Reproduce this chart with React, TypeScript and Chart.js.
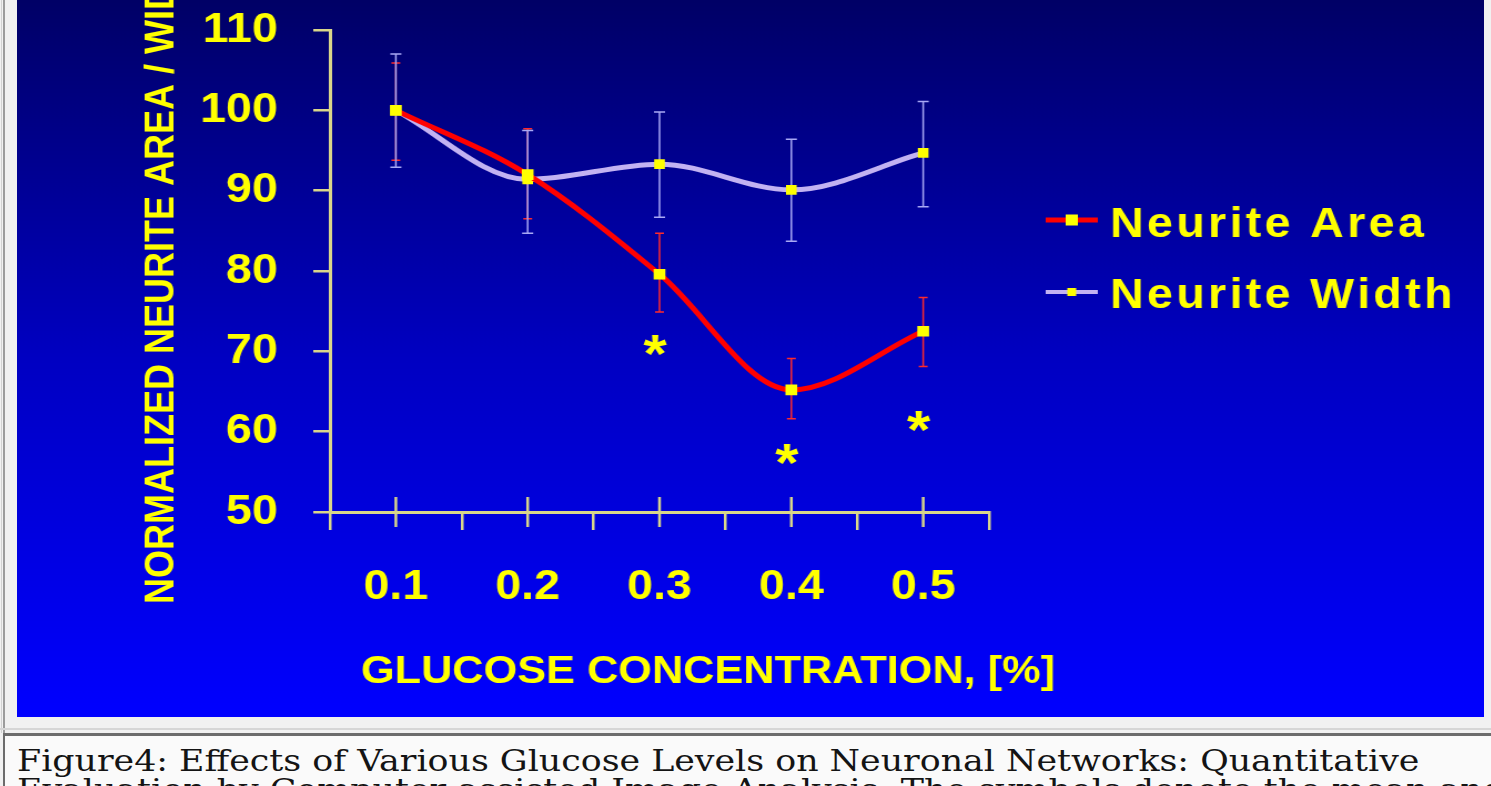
import React, { useEffect, useLayoutEffect, useRef } from 'react';
import { Chart, registerables } from 'chart.js';

Chart.register(...registerables);

// ---------------- data ----------------
const categories = ['0.1', '0.2', '0.3', '0.4', '0.5'];
const seriesLabels = ['Neurite Area', 'Neurite Width'];
const areaMean = [100, 92, 79.6, 65.2, 72.5];
const areaUpper = [105.9, 97.7, 84.7, 69.1, 76.7];
const areaLower = [93.8, 86.5, 74.9, 61.6, 68.1];
const widthMean = [100, 91.4, 93.3, 90.1, 94.7];
const widthUpper = [107.0, 97.5, 99.8, 96.4, 101.1];
const widthLower = [92.9, 84.7, 86.7, 83.7, 88.0];
const yTickValues = [50, 60, 70, 80, 90, 100, 110];
const asteriskCategories = ['0.3', '0.4', '0.5'];
const asteriskValues = [71.3, 57.7, 61.9];
const xTitle = 'GLUCOSE CONCENTRATION, [%]';
const yTitle = 'NORMALIZED NEURITE AREA / WIDTH';
const captionLines = [
  'Figure4: Effects of Various Glucose Levels on Neuronal Networks: Quantitative',
  'Evaluation by Computer-assisted Image Analysis. The symbols denote the mean and',
];

// ---------------- style / layout ----------------
const W = 1322; // logical canvas width
const H = 717;
const CSS_W = 1467; // displayed width (picture is stretched horizontally)
const AREA = { left: 282, top: 30, right: 876, bottom: 512 };
const YELLOW = '#ffff00';
const AXIS = '#d9d68a';
const RED = '#ff0000';
const LAVENDER = '#c2b2f2';
const FONT = '"Liberation Sans", Arial, sans-serif';

const errorStyles = [
  { color: '#ff2a2a', cap: 4 },
  { color: '#a9a9f5', cap: 5 },
];
const errorData = [
  { upper: areaUpper, lower: areaLower },
  { upper: widthUpper, lower: widthLower },
];

const legendLayout = {
  x1: 927,
  x2: 974,
  textX: 985,
  rows: [
    { lineY: 220, base: 236.5, lw: 5, marker: 11 },
    { lineY: 292, base: 308, lw: 4, marker: 8 },
  ],
};

const zeroPadding = (s: any) => {
  s.paddingTop = 0;
  s.paddingBottom = 0;
  s.paddingLeft = 0;
  s.paddingRight = 0;
};

const backgroundPlugin = {
  id: 'panelBackground',
  beforeDraw(chart: any) {
    const { ctx, width, height } = chart;
    const g = ctx.createLinearGradient(0, 0, 0, height);
    g.addColorStop(0, '#000066');
    g.addColorStop(0.5, '#0000c2');
    g.addColorStop(1, '#0000ff');
    ctx.save();
    ctx.fillStyle = g;
    ctx.fillRect(0, 0, width, height);
    ctx.restore();
  },
};

const errorBarPlugin = {
  id: 'errorBars',
  beforeDatasetsDraw(chart: any) {
    const { ctx, chartArea } = chart;
    const x = chart.scales.x;
    const y = chart.scales.y;
    ctx.save();
    // category cross ticks on the x axis
    ctx.strokeStyle = AXIS;
    ctx.lineWidth = 2.5;
    categories.forEach((c, i) => {
      const px = x.getPixelForValue(i);
      ctx.beginPath();
      ctx.moveTo(px, chartArea.bottom - 15);
      ctx.lineTo(px, chartArea.bottom + 15);
      ctx.stroke();
    });
    // error bars
    ctx.lineWidth = 1.5;
    errorData.forEach((s, si) => {
      const st = errorStyles[si];
      ctx.strokeStyle = st.color;
      categories.forEach((c, i) => {
        const px = x.getPixelForValue(i);
        const top = y.getPixelForValue(s.upper[i]);
        const bot = y.getPixelForValue(s.lower[i]);
        ctx.beginPath();
        ctx.moveTo(px, top);
        ctx.lineTo(px, bot);
        ctx.moveTo(px - st.cap, top);
        ctx.lineTo(px + st.cap, top);
        ctx.moveTo(px - st.cap, bot);
        ctx.lineTo(px + st.cap, bot);
        ctx.stroke();
      });
    });
    ctx.restore();
  },
};

const annotationPlugin = {
  id: 'annotations',
  afterDraw(chart: any) {
    const { ctx } = chart;
    const x = chart.scales.x;
    const y = chart.scales.y;
    ctx.save();
    ctx.fillStyle = YELLOW;

    // significance asterisks
    const astSize = 54;
    ctx.font = `bold ${astSize}px ${FONT}`;
    ctx.textAlign = 'center';
    ctx.textBaseline = 'alphabetic';
    asteriskCategories.forEach((c, i) => {
      const px = x.getPixelForValue(categories.indexOf(c)) - 4;
      const py = y.getPixelForValue(asteriskValues[i]) + astSize * 0.58;
      ctx.fillText('*', px, py);
    });

    // y axis title (rotated, runs off the top)
    ctx.save();
    ctx.translate(140.5, 604);
    ctx.rotate(-Math.PI / 2);
    ctx.font = `bold 36px ${FONT}`;
    ctx.textAlign = 'left';
    ctx.textBaseline = 'alphabetic';
    ctx.fillText(yTitle, 0, 0);
    ctx.restore();

    // x axis title
    ctx.font = `bold 39px ${FONT}`;
    ctx.textAlign = 'left';
    ctx.textBaseline = 'alphabetic';
    ctx.fillText(xTitle, 310, 683);

    // legend
    chart.data.datasets.forEach((ds: any, i: number) => {
      const row = legendLayout.rows[i];
      ctx.strokeStyle = ds.borderColor;
      ctx.lineWidth = row.lw;
      ctx.beginPath();
      ctx.moveTo(legendLayout.x1, row.lineY);
      ctx.lineTo(legendLayout.x2, row.lineY);
      ctx.stroke();
      const mx = (legendLayout.x1 + legendLayout.x2) / 2;
      ctx.fillStyle = YELLOW;
      ctx.fillRect(mx - row.marker / 2, row.lineY - row.marker / 2, row.marker, row.marker);
      ctx.font = `bold 42px ${FONT}`;
      (ctx as any).letterSpacing = '3px';
      ctx.textAlign = 'left';
      ctx.fillText(ds.label, legendLayout.textX, row.base);
      (ctx as any).letterSpacing = '0px';
    });
    ctx.restore();
  },
};

export default function App() {
  const ref = useRef<HTMLCanvasElement>(null);

  useLayoutEffect(() => {
    document.body.style.margin = '0';
  }, []);

  useEffect(() => {
    const canvas = ref.current;
    if (!canvas) return;
    const tickFont = { family: FONT, weight: 'bold' as const, size: 42 };
    const chart = new Chart(canvas, {
      type: 'line',
      data: {
        labels: categories,
        datasets: [
          {
            label: seriesLabels[0],
            data: areaMean,
            borderColor: RED,
            borderWidth: 5,
            cubicInterpolationMode: 'monotone',
            pointStyle: 'rect',
            pointRadius: 7.5,
            pointBackgroundColor: YELLOW,
            pointBorderWidth: 0,
            fill: false,
          },
          {
            label: seriesLabels[1],
            data: widthMean,
            borderColor: LAVENDER,
            borderWidth: 5,
            cubicInterpolationMode: 'monotone',
            pointStyle: 'rect',
            pointRadius: 6.8,
            pointBackgroundColor: YELLOW,
            pointBorderWidth: 0,
            fill: false,
          },
        ],
      },
      options: {
        animation: false,
        responsive: false,
        maintainAspectRatio: false,
        devicePixelRatio: 1,
        events: [],
        layout: { padding: { left: 0, top: AREA.top, right: W - AREA.right, bottom: 0 } },
        plugins: {
          legend: { display: false },
          tooltip: { enabled: false },
          title: { display: false },
        },
        scales: {
          x: {
            type: 'category',
            offset: true,
            grid: {
              offset: true,
              drawOnChartArea: false,
              drawTicks: true,
              tickLength: 18,
              color: AXIS,
              lineWidth: 2.5,
            },
            border: { display: true, color: AXIS, width: 3 },
            ticks: {
              color: YELLOW,
              font: tickFont,
              padding: 32,
              maxRotation: 0,
              autoSkip: false,
            },
            afterFit: (s: any) => {
              s.height = H - AREA.bottom;
              zeroPadding(s);
            },
          },
          y: {
            type: 'linear',
            min: 50,
            max: 110,
            afterBuildTicks: (s: any) => {
              s.ticks = yTickValues.map((v) => ({ value: v }));
            },
            grid: {
              drawOnChartArea: false,
              drawTicks: true,
              tickLength: 15,
              color: AXIS,
              lineWidth: 2.5,
            },
            border: { display: true, color: AXIS, width: 3 },
            ticks: {
              color: YELLOW,
              font: tickFont,
              padding: 32,
            },
            afterFit: (s: any) => {
              s.width = AREA.left;
              zeroPadding(s);
            },
          },
        },
      } as any,
      plugins: [backgroundPlugin, errorBarPlugin, annotationPlugin],
    });
    return () => chart.destroy();
  }, []);

  return (
    <div
      style={{
        position: 'relative',
        width: 1491,
        height: 786,
        overflow: 'hidden',
        background: '#f1f1f1',
      }}
    >
      <div style={{ position: 'absolute', left: 1, top: 0, width: 1, height: 733, background: '#d2d2d2' }} />
      <div style={{ position: 'absolute', left: 3, top: 0, width: 2, height: 733, background: '#9c9c9c' }} />
      <div style={{ position: 'absolute', left: 17, top: 0, width: CSS_W, height: H }}>
        <canvas
          ref={ref}
          width={W}
          height={H}
          style={{ display: 'block', width: `${CSS_W}px`, height: `${H}px` }}
        />
      </div>
      <div style={{ position: 'absolute', left: 0, top: 728, width: 1491, height: 2, background: '#d6d6d6' }} />
      <div
        style={{
          position: 'absolute',
          left: 3,
          top: 733,
          width: 1488,
          height: 60,
          borderTop: '3px solid #6c6c6c',
          borderLeft: '2px solid #6c6c6c',
          background: '#fafafa',
          boxSizing: 'border-box',
        }}
      />
      <div
        style={{
          position: 'absolute',
          left: 17,
          top: 747,
          fontFamily: '"DejaVu Serif", serif',
          fontSize: 30,
          lineHeight: '28.5px',
          color: '#141414',
          whiteSpace: 'nowrap',
          transform: 'scaleX(1.16)',
          transformOrigin: 'left top',
        }}
      >
        {captionLines[0]}
        <br />
        {captionLines[1]}
      </div>
    </div>
  );
}
